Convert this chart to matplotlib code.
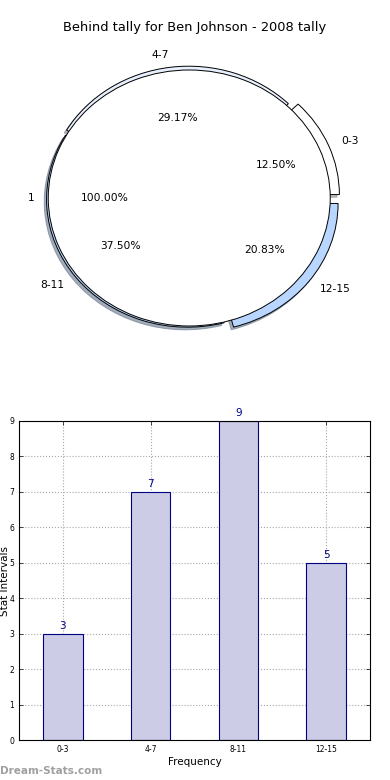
import matplotlib
matplotlib.use("Agg")
import matplotlib.pyplot as plt

# Data
categories = ["0-3", "4-7", "8-11", "12-15"]
counts = [3, 7, 9, 5]
inner_labels = ["1"]
inner_values = [1]
title = "Behind tally for Ben Johnson - 2008 tally"

outer_colors = ["#ffffff", "#e8efff", "#b8d6ff", "#b8d6ff"]
explode = [0.07, 0.03, 0.015, 0.07]

fig = plt.figure(figsize=(3.9, 7.8), dpi=100)

# Pie chart (non-equal aspect, like old matplotlib)
ax1 = fig.add_axes([13 / 390, 1 - 358 / 780, 352.5 / 390, 320 / 780])
ax1.pie(counts, labels=categories, colors=outer_colors, explode=explode,
        autopct="%.2f%%",
        shadow={"ox": -0.012, "oy": -0.015, "shade": 0.45, "alpha": 0.6},
        startangle=0, radius=1.0,
        wedgeprops=dict(edgecolor="black", linewidth=0.7),
        textprops=dict(fontsize=7.7))
ax1.pie(inner_values, labels=inner_labels, colors=["white"], autopct="%.2f%%",
        startangle=0, radius=1.0,
        wedgeprops=dict(edgecolor="black", linewidth=0.7),
        textprops=dict(fontsize=7.7))
ax1.set_aspect("auto")
ax1.set_xlim(-1.25, 1.25)
ax1.set_ylim(-1.25, 1.25)
ax1.set_title(title, fontsize=9.4, pad=5, x=0.514)

# Bar chart
ax2 = fig.add_axes([19 / 390, 40 / 780, 351 / 390, 319 / 780])
x = list(range(len(categories)))
bars = ax2.bar(x, counts, width=0.45, color="#ccccE6", edgecolor="#000080",
               linewidth=0.8, zorder=2)
for xi, c in zip(x, counts):
    ax2.text(xi, c + 0.08, str(c), ha="center", va="bottom", color="#000080",
             fontsize=7.5)
ax2.set_xlim(-0.5, 3.5)
ax2.set_ylim(0, 9)
ax2.set_xticks(x)
ax2.set_xticklabels(categories)
ax2.set_yticks(range(0, 10))
ax2.tick_params(axis="both", labelsize=5.5, direction="in", length=3,
                width=0.5, top=True, right=True)
ax2.grid(True, linestyle=":", color="#a8a8a8", linewidth=0.8, zorder=0)
ax2.set_axisbelow(True)
ax2.set_xlabel("Frequency", fontsize=7.5, labelpad=2)
ax2.set_ylabel("Stat Intervals", fontsize=7.5)
ax2.yaxis.set_label_coords(-0.026, 0.5)
for s in ax2.spines.values():
    s.set_linewidth(0.8)

fig.text(0.0, 1 - 771 / 780, "Dream-Stats.com", fontsize=7.5, fontweight="bold",
         color="#a0a0a0", ha="left", va="center")

fig.savefig("out.png", dpi=100)
